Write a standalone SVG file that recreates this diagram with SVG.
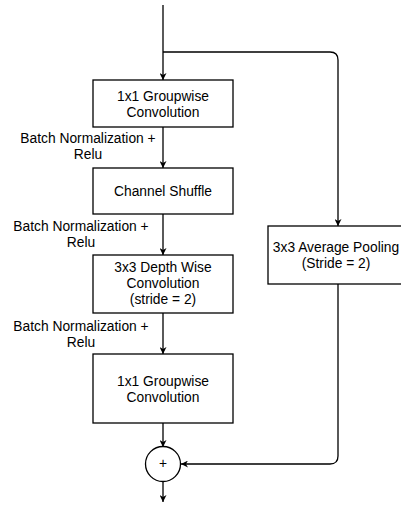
<svg xmlns="http://www.w3.org/2000/svg" width="401" height="505" viewBox="0 0 401 505">
<style>
.box{fill:#fff;stroke:#000;stroke-width:1.3}
.edge{fill:none;stroke:#000;stroke-width:1.3}
text{font-family:"Liberation Sans",Arial,sans-serif;font-size:13.8px;fill:#000;text-anchor:middle}
</style>
<defs>
<marker id="arr" viewBox="0 0 10 10" refX="10" refY="5" markerWidth="7" markerHeight="7" markerUnits="userSpaceOnUse" orient="auto">
<path d="M0,0 L10,5 L0,10 L3,5 Z" fill="#000"/>
</marker>
</defs>
<rect width="401" height="505" fill="#fff"/>
<g id="connectors">
<path class="edge" d="M163,5 V80" marker-end="url(#arr)"/>
<path class="edge" d="M163,52 H330 Q338,52 338,60 V226" marker-end="url(#arr)"/>
<path class="edge" d="M163,127 V168" marker-end="url(#arr)"/>
<path class="edge" d="M163,214 V255" marker-end="url(#arr)"/>
<path class="edge" d="M163,313 V354" marker-end="url(#arr)"/>
<path class="edge" d="M163,423 V447" marker-end="url(#arr)"/>
<path class="edge" d="M338,284 V456 Q338,464 330,464 H181" marker-end="url(#arr)"/>
<path class="edge" d="M163,482 V502" marker-end="url(#arr)"/>
</g>
<g id="labels">
<text x="88" y="143">Batch Normalization +</text>
<text x="88" y="159">Relu</text>
<text x="81" y="231">Batch Normalization +</text>
<text x="81" y="247">Relu</text>
<text x="81" y="331">Batch Normalization +</text>
<text x="81" y="347">Relu</text>
</g>
<g id="gconv1">
<rect class="box" x="93" y="80" width="140" height="47"/>
<text x="163" y="101">1x1 Groupwise</text>
<text x="163" y="117">Convolution</text>
</g>
<g id="shuffle">
<rect class="box" x="93" y="168" width="140" height="46"/>
<text x="163" y="196">Channel Shuffle</text>
</g>
<g id="dwconv">
<rect class="box" x="93" y="255" width="140" height="58"/>
<text x="163" y="272">3x3 Depth Wise</text>
<text x="163" y="288">Convolution</text>
<text x="163" y="304">(stride = 2)</text>
</g>
<g id="gconv2">
<rect class="box" x="93" y="354" width="140" height="69"/>
<text x="163" y="386">1x1 Groupwise</text>
<text x="163" y="402">Convolution</text>
</g>
<g id="avgpool">
<rect class="box" x="268" y="226" width="140" height="58"/>
<text x="336" y="252">3x3 Average Pooling</text>
<text x="336" y="268">(Stride = 2)</text>
</g>
<g id="add">
<circle class="box" cx="163" cy="464" r="17.5"/>
<text x="163" y="468" font-size="12">+</text>
</g>
</svg>
